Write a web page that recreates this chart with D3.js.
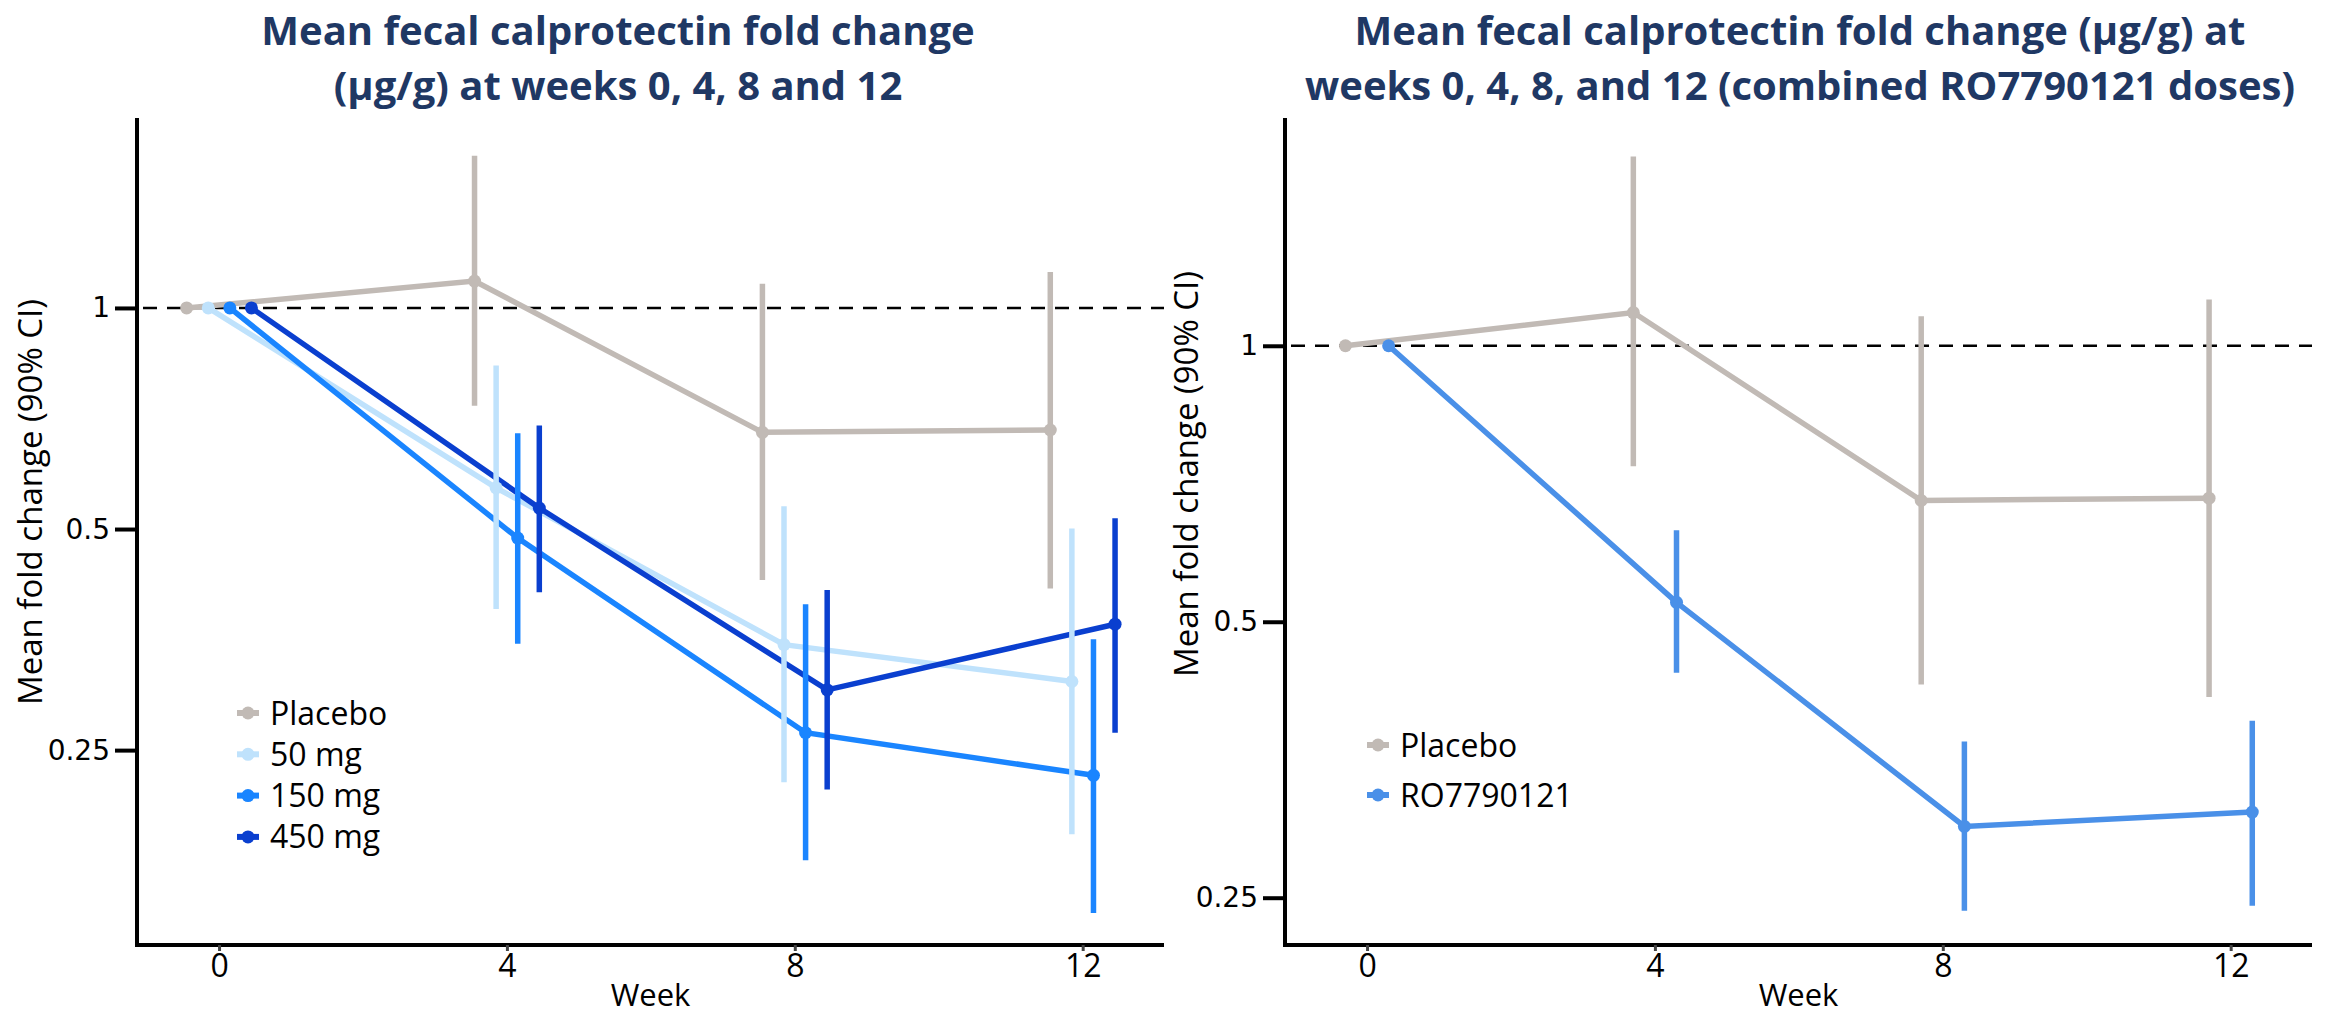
<!DOCTYPE html>
<html>
<head>
<meta charset="utf-8">
<script src="https://cdn.jsdelivr.net/npm/d3@7"></script>
<style>
  body { margin: 0; background: white; }
</style>
</head>
<body>
<div id="chart"></div>
<script>
// weeks and values (fold change vs baseline, 90% CI)
var weeks = [0, 4, 8, 12]
var yTicks = [0.25, 0.5, 1]

// left panel: per dose
var placeboMean = [1, 1.088, 0.677, 0.682]
var placeboLo   = [1, 0.736, 0.426, 0.415]
var placeboHi   = [1, 1.611, 1.079, 1.119]
var mg50Mean  = [1, 0.569, 0.348, 0.310]
var mg50Lo    = [1, 0.389, 0.226, 0.192]
var mg50Hi    = [1, 0.835, 0.537, 0.501]
var mg150Mean = [1, 0.486, 0.264, 0.231]
var mg150Lo   = [1, 0.349, 0.177, 0.150]
var mg150Hi   = [1, 0.675, 0.395, 0.354]
var mg450Mean = [1, 0.534, 0.302, 0.371]
var mg450Lo   = [1, 0.410, 0.221, 0.264]
var mg450Hi   = [1, 0.692, 0.413, 0.517]

// right panel: combined doses
var placebo2Mean = [1, 1.087, 0.678, 0.682]
var placebo2Lo   = [1, 0.739, 0.427, 0.414]
var placebo2Hi   = [1, 1.609, 1.077, 1.123]
var roMean = [1, 0.525, 0.299, 0.310]
var roLo   = [1, 0.440, 0.242, 0.245]
var roHi   = [1, 0.629, 0.370, 0.390]

var leftNames = ["Placebo", "50 mg", "150 mg", "450 mg"]
var rightNames = ["Placebo", "RO7790121"]

var W = 2336, H = 1016
var navy = "#1f3864"

var svg = d3.select("#chart").append("svg")
    .attr("width", W).attr("height", H)

function drawPanel(p) {
  var g = svg.append("g")

  var x = d3.scaleLinear().domain([-1.14, 13.13]).range([p.left, p.right])
  var y = d3.scaleLog().base(2).domain(p.yDomain).range([p.bottom, p.top])

  // title, two lines
  p.title.forEach(function(t, i) {
    g.append("text")
      .attr("x", p.titleX).attr("y", 45 + i*55)
      .attr("text-anchor", "middle")
      .style("font-family", "'Open Sans'").style("font-weight", "bold")
      .style("font-size", "40px").style("fill", navy)
      .text(t)
  })

  // reference line at 1
  g.append("line")
    .attr("x1", x.range()[0] + 6).attr("x2", x.range()[1])
    .attr("y1", y(1)).attr("y2", y(1))
    .style("stroke", "black").style("stroke-width", 2.6)
    .style("stroke-dasharray", "14,10")

  // axes
  var yAxis = g.append("g")
    .attr("transform", "translate(" + p.left + ",0)")
    .call(d3.axisLeft(y).tickValues(yTicks).tickSize(22).tickSizeOuter(0).tickPadding(5)
      .tickFormat(function(d) { return d3.format("~g")(d) }))
  yAxis.select(".domain").attr("d", "M0," + p.top + "V" + p.bottom)
    .style("stroke-width", 4)
  yAxis.selectAll(".tick line").style("stroke-width", 4)
  yAxis.selectAll(".tick text")
    .style("font-family", "'DejaVu Sans'").style("font-size", "28px").style("fill", "black")

  var xAxis = g.append("g")
    .attr("transform", "translate(0," + p.bottom + ")")
    .call(d3.axisBottom(x).tickValues(weeks).tickSize(6).tickSizeOuter(0).tickPadding(3))
  xAxis.select(".domain").attr("d", "M" + (p.left - 2) + ",0H" + p.right)
    .style("stroke-width", 4)
  xAxis.selectAll(".tick line").style("stroke", "#444").style("stroke-width", 3)
  xAxis.selectAll(".tick text")
    .style("font-family", "'Open Sans'").style("font-size", "32px").style("fill", "black")

  g.append("text")
    .attr("x", (p.left + p.right)/2).attr("y", 1006)
    .attr("text-anchor", "middle")
    .style("font-family", "'Open Sans'").style("font-size", "31px")
    .text("Week")

  g.append("text")
    .attr("transform", "translate(" + p.yTitleX + "," + p.yTitleY + ") rotate(-90)")
    .attr("text-anchor", "middle").attr("dy", "0.35em")
    .style("font-family", "'Open Sans'").style("font-size", "33px")
    .text("Mean fold change (90% CI)")

  // series
  var line = d3.line().x(function(d) { return x(d.w) }).y(function(d) { return y(d.v) })
  var rows = p.series.map(function(s, si) {
    return weeks.map(function(w, i) {
      return { w: w + p.dodge[si], v: s.mean[i], lo: s.lo[i], hi: s.hi[i], color: s.color }
    })
  })

  rows.forEach(function(r) {
    g.append("path").datum(r)
      .attr("d", line)
      .style("fill", "none").style("stroke", r[0].color).style("stroke-width", 5.5)
  })
  rows.forEach(function(r) {
    g.selectAll(null).data(r.filter(function(d) { return d.lo != d.hi }))
      .enter().append("line")
      .attr("x1", function(d) { return x(d.w) }).attr("x2", function(d) { return x(d.w) })
      .attr("y1", function(d) { return y(d.lo) }).attr("y2", function(d) { return y(d.hi) })
      .style("stroke", function(d) { return d.color }).style("stroke-width", 5.5)
    g.selectAll(null).data(r)
      .enter().append("circle")
      .attr("cx", function(d) { return x(d.w) }).attr("cy", function(d) { return y(d.v) })
      .attr("r", 6.5)
      .style("fill", function(d) { return d.color })
  })

  // legend
  var leg = g.append("g").attr("transform", "translate(" + p.legX + "," + p.legY + ")")
  p.series.forEach(function(s, i) {
    var row = leg.append("g").attr("transform", "translate(0," + i*p.legStep + ")")
    row.append("line").attr("x1", 0).attr("x2", 22)
      .style("stroke", s.color).style("stroke-width", 6)
    row.append("circle").attr("cx", 11).attr("r", 6.5).style("fill", s.color)
    row.append("text").attr("x", 33).attr("dy", "0.36em")
      .style("font-family", "'Open Sans'").style("font-size", "32px")
      .text(s.name)
  })
}

drawPanel({
  left: 137, right: 1164, top: 118, bottom: 945,
  yDomain: [0.1357, 1.814],
  title: ["Mean fecal calprotectin fold change", "(\u00b5g/g) at weeks 0, 4, 8 and 12"],
  titleX: 618,
  yTitleX: 30, yTitleY: 502,
  dodge: [-0.45, -0.15, 0.15, 0.45],
  legX: 237, legY: 713, legStep: 41.3,
  series: [
    { name: leftNames[0], mean: placeboMean, lo: placeboLo, hi: placeboHi, color: "#c1bab5" },
    { name: leftNames[1], mean: mg50Mean, lo: mg50Lo, hi: mg50Hi, color: "#bfe2fc" },
    { name: leftNames[2], mean: mg150Mean, lo: mg150Lo, hi: mg150Hi, color: "#1a85ff" },
    { name: leftNames[3], mean: mg450Mean, lo: mg450Lo, hi: mg450Hi, color: "#0a3fcf" }
  ]
})

drawPanel({
  left: 1285, right: 2312, top: 118, bottom: 945,
  yDomain: [0.222, 1.772],
  title: ["Mean fecal calprotectin fold change (\u00b5g/g) at", "weeks 0, 4, 8, and 12 (combined RO7790121 doses)"],
  titleX: 1800,
  yTitleX: 1186, yTitleY: 474,
  dodge: [-0.3, 0.3],
  legX: 1367, legY: 745, legStep: 50,
  series: [
    { name: rightNames[0], mean: placebo2Mean, lo: placebo2Lo, hi: placebo2Hi, color: "#c1bab5" },
    { name: rightNames[1], mean: roMean, lo: roLo, hi: roHi, color: "#4a90e8" }
  ]
})
</script>
</body>
</html>
